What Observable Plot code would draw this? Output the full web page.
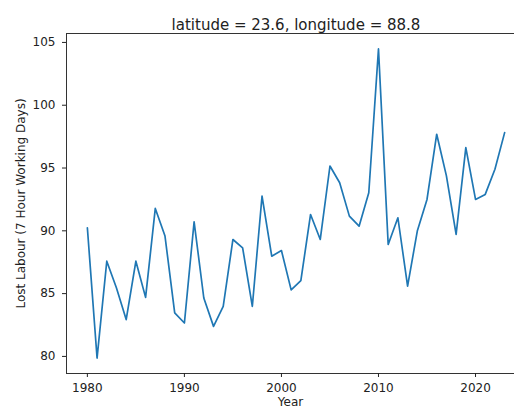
<!DOCTYPE html>
<html>
<head>
<meta charset="utf-8">
<script src="https://cdn.jsdelivr.net/npm/d3@7"></script>
<script src="https://cdn.jsdelivr.net/npm/@observablehq/plot@0.6"></script>
<style>
  html, body { margin: 0; padding: 0; overflow: hidden; background: white; }
  svg { overflow: hidden; }
</style>
</head>
<body>
<div id="chart"></div>
<script>
const years = [1980,1981,1982,1983,1984,1985,1986,1987,1988,1989,1990,1991,1992,1993,1994,1995,1996,1997,1998,1999,2000,2001,2002,2003,2004,2005,2006,2007,2008,2009,2010,2011,2012,2013,2014,2015,2016,2017,2018,2019,2020,2021,2022,2023];
const lostLabour = [90.24,79.87,87.58,85.45,82.93,87.58,84.7,91.78,89.58,83.46,82.66,90.72,84.65,82.39,83.99,89.31,88.65,83.99,92.77,87.98,88.43,85.3,86.04,91.3,89.31,95.16,93.83,91.17,90.37,93.03,104.48,88.91,91.04,85.59,89.98,92.5,97.69,94.37,89.71,96.63,92.5,92.9,94.9,97.82];
const xTicks = [1980, 1990, 2000, 2010, 2020];
const yTicks = [80, 85, 90, 95, 100, 105];
const titleText = "latitude = 23.6, longitude = 88.8";
const xLabel = "Year";
const yLabel = "Lost Labour (7 Hour Working Days)";

const data = years.map((y, i) => ({year: y, value: lostLabour[i]}));

// matplotlib-style 5% margins
const xMin = d3.min(years), xMax = d3.max(years);
const yMin = d3.min(lostLabour), yMax = d3.max(lostLabour);
const xPad = (xMax - xMin) * 0.05, yPad = (yMax - yMin) * 0.05;
const xDomain = [xMin - xPad, xMax + xPad];
const yDomain = [yMin - yPad, yMax + yPad];
const xMid = (xDomain[0] + xDomain[1]) / 2;

const W = 514, H = 408;
const mL = 66, mT = 33, mB = 35;

const chart = Plot.plot({
  width: W,
  height: H,
  marginLeft: mL,
  marginTop: mT,
  marginBottom: mB,
  marginRight: 0,
  style: {fontFamily: "DejaVu Sans", fontSize: "12px", color: "#222", background: "white"},
  x: {domain: xDomain, range: [mL, 525]},
  y: {domain: yDomain},
  marks: [
    Plot.ruleX([xDomain[0]], {stroke: "#333", strokeWidth: 1}),
    Plot.ruleY([yDomain[0]], {x1: xDomain[0], x2: xDomain[1], stroke: "#333", strokeWidth: 1}),
    Plot.ruleY([yDomain[1]], {x1: xDomain[0], x2: xDomain[1], stroke: "#333", strokeWidth: 1}),
    Plot.line(data, {x: "year", y: "value", stroke: "#1f77b4", strokeWidth: 1.7}),
    Plot.axisX({ticks: xTicks, tickFormat: d => String(d), tickSize: 4, tickPadding: 6, fontSize: 12,
      label: xLabel, labelAnchor: "center", labelArrow: "none", labelOffset: 32}),
    Plot.axisY({ticks: yTicks, tickSize: 4, tickPadding: 7, fontSize: 12,
      label: yLabel, labelAnchor: "center", labelArrow: "none", labelOffset: 50}),
    Plot.text([titleText], {x: () => xMid, frameAnchor: "top", dy: -14, text: d => d, fontSize: 15, fill: "#222"})
  ]
});
document.getElementById("chart").appendChild(chart);
</script>
</body>
</html>
